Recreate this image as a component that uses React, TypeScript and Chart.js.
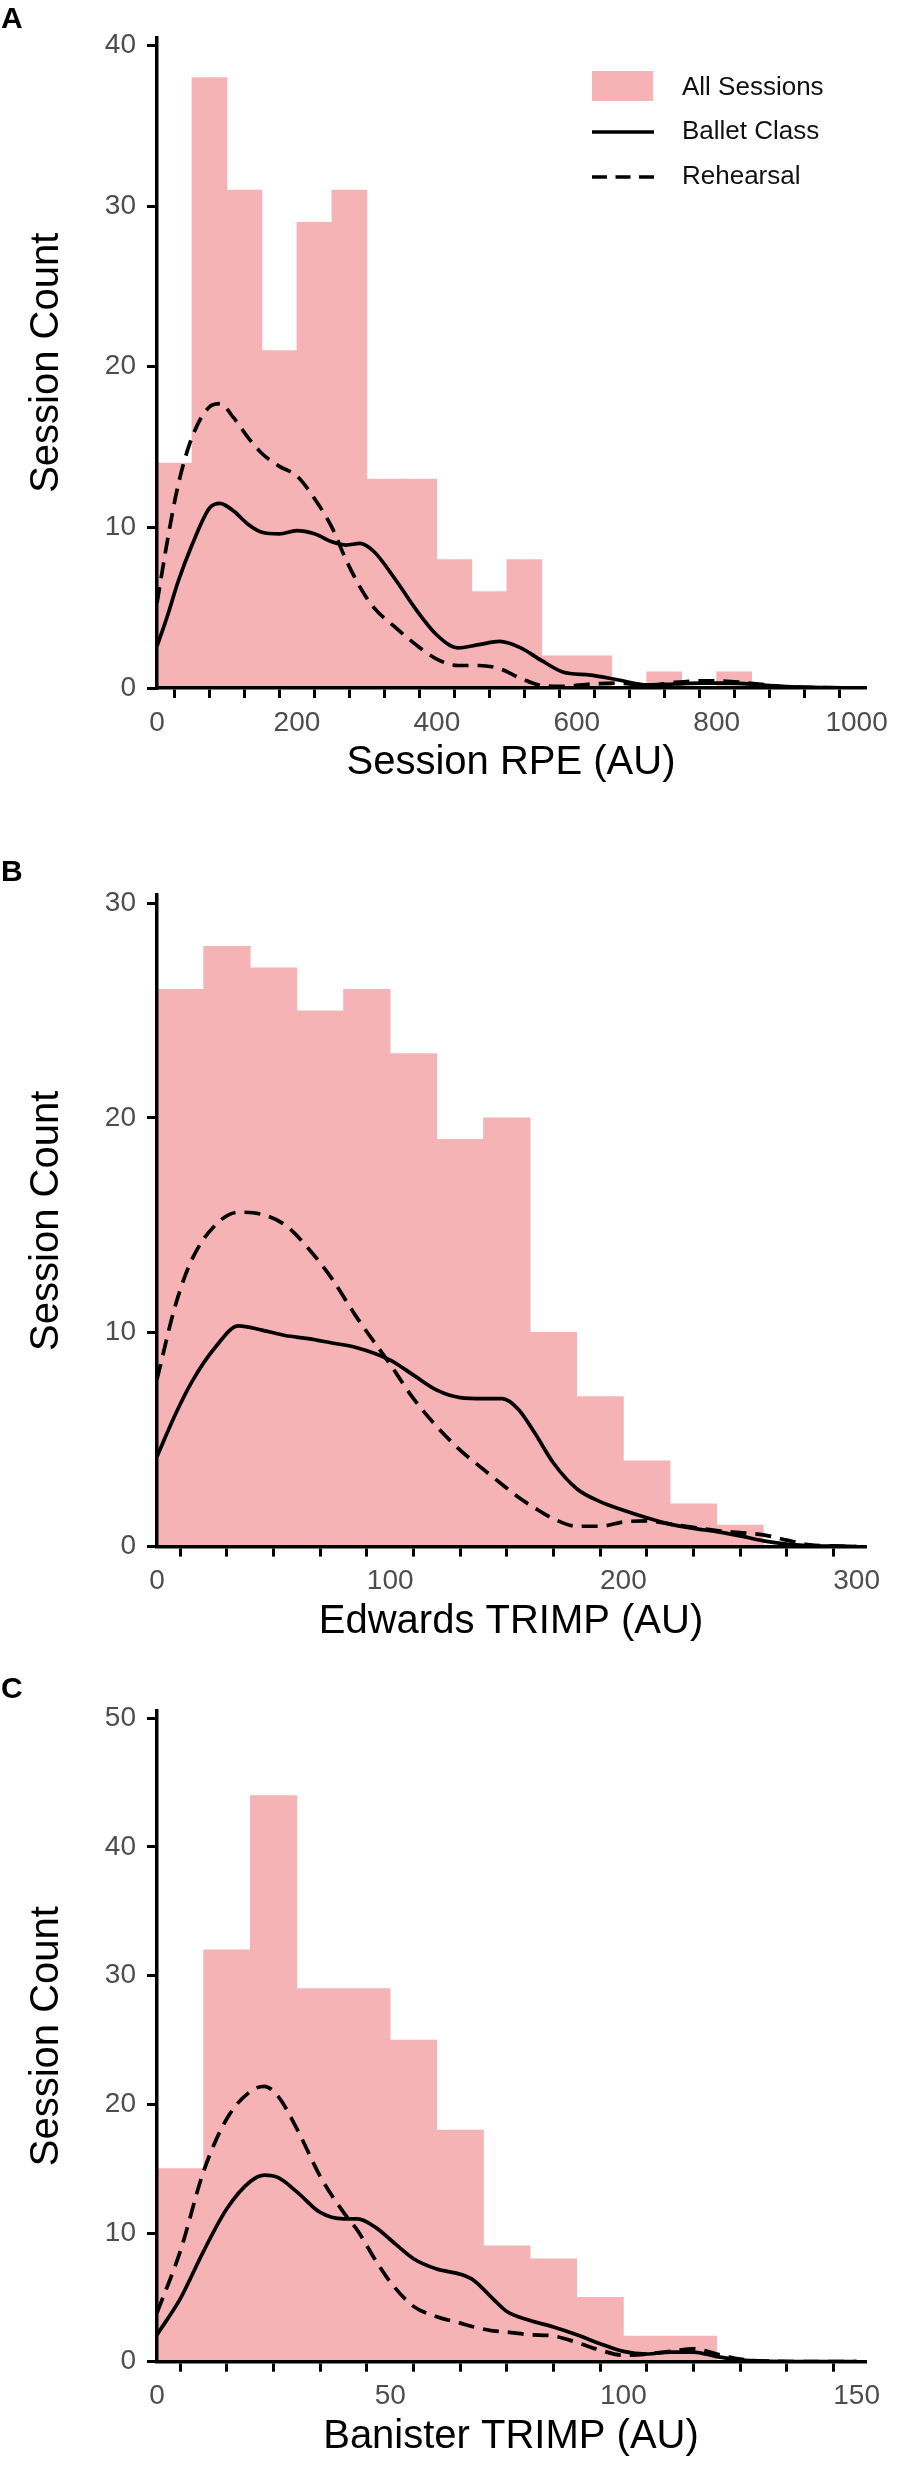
import { useEffect, useRef } from "react";
import { Chart, registerables, type ChartConfiguration, type Plugin } from "chart.js";

Chart.register(...registerables);

const FONT = "'Liberation Sans', Arial, Helvetica, sans-serif";
const PINK = "#f6b3b5";
const TICK_GREY = "#4d4d4d";

const PANEL_W = 900;
const PANEL_H = 824;
const PLOT_LEFT = 157;
const PLOT_RIGHT = 865;
const X_AXIS_H = 99;
const CURVE_W = 3.7;
const DASH = [16, 9];

// A: session RPE, 50 AU bins
const RPE_BINS = [25, 75, 125, 175, 225, 275, 325, 375, 425, 475, 525, 575, 625, 675, 725, 775, 825, 875, 925, 975];
const RPE_COUNTS = [14, 38, 31, 21, 29, 31, 13, 13, 8, 6, 8, 2, 2, 0, 1, 0, 1, 0, 0, 0];
const RPE_DENS_X = [0, 15, 30, 50, 75, 90, 110, 130, 150, 175, 200, 225, 250, 270, 290, 310, 340, 370, 400, 430, 460, 490, 520, 550, 580, 620, 660, 700, 740, 780, 820, 860, 900, 950, 1000];
const RPE_BALLET = [2.6, 4.5, 6.6, 8.9, 11.2, 11.5, 11.0, 10.2, 9.7, 9.6, 9.8, 9.6, 9.1, 8.9, 9.0, 8.5, 6.8, 4.9, 3.3, 2.5, 2.7, 2.9, 2.5, 1.7, 1.0, 0.8, 0.5, 0.2, 0.25, 0.3, 0.3, 0.2, 0.08, 0.03, 0];
const RPE_REHEARSAL = [5.3, 9.2, 12.6, 15.6, 17.5, 17.7, 16.8, 15.6, 14.6, 13.8, 13.2, 11.8, 10.0, 8.0, 6.3, 5.0, 3.8, 2.7, 1.8, 1.4, 1.4, 1.2, 0.6, 0.15, 0.1, 0.25, 0.3, 0.15, 0.35, 0.45, 0.4, 0.25, 0.07, 0.02, 0];
const RPE_X_TICKS = [0, 50, 100, 150, 200, 250, 300, 350, 400, 450, 500, 550, 600, 650, 700, 750, 800, 850, 900, 950, 1000];
const RPE_X_LABELS = [0, 200, 400, 600, 800, 1000];
const RPE_Y_TICKS = [0, 10, 20, 30, 40];

// B: Edwards TRIMP, 20 AU bins
const EDW_BINS = [10, 30, 50, 70, 90, 110, 130, 150, 170, 190, 210, 230, 250, 270, 290];
const EDW_COUNTS = [26, 28, 27, 25, 26, 23, 19, 20, 10, 7, 4, 2, 1, 0, 0];
const EDW_DENS_X = [0, 8, 15, 25, 35, 45, 55, 65, 75, 85, 100, 110, 120, 130, 140, 148, 155, 162, 170, 180, 190, 200, 210, 220, 230, 240, 250, 260, 270, 280, 290, 300];
const EDW_BALLET = [4.2, 6.2, 7.7, 9.3, 10.3, 10.1, 9.85, 9.7, 9.5, 9.3, 8.7, 8.0, 7.3, 6.95, 6.9, 6.9, 6.4, 5.3, 3.9, 2.7, 2.1, 1.7, 1.35, 1.05, 0.85, 0.7, 0.5, 0.27, 0.12, 0.05, 0.02, 0];
const EDW_REHEARSAL = [7.8, 11.3, 13.4, 15.0, 15.6, 15.5, 15.0, 13.9, 12.5, 10.8, 8.5, 6.9, 5.6, 4.5, 3.6, 2.9, 2.3, 1.8, 1.3, 0.95, 0.95, 1.15, 1.2, 1.05, 0.9, 0.75, 0.65, 0.55, 0.3, 0.08, 0.03, 0];
const EDW_X_TICKS = [0, 20, 40, 60, 80, 100, 120, 140, 160, 180, 200, 220, 240, 260, 280, 300];
const EDW_X_LABELS = [0, 100, 200, 300];
const EDW_Y_TICKS = [0, 10, 20, 30];

// C: Banister TRIMP, 10 AU bins
const BAN_BINS = [5, 15, 25, 35, 45, 55, 65, 75, 85, 95, 105, 115, 125, 135, 145];
const BAN_COUNTS = [15, 32, 44, 29, 29, 25, 18, 9, 8, 5, 2, 2, 0, 0, 0];
const BAN_DENS_X = [0, 5, 10, 15, 20, 23, 26, 30, 35, 40, 43, 47, 50, 55, 60, 65, 68, 72, 75, 80, 85, 90, 95, 100, 105, 110, 115, 120, 125, 130, 140, 150];
const BAN_BALLET = [2.1, 4.9, 8.6, 11.9, 14.0, 14.5, 14.3, 13.2, 11.6, 11.1, 11.1, 10.4, 9.5, 8.0, 7.2, 6.8, 6.3, 4.9, 3.9, 3.2, 2.7, 2.1, 1.4, 0.8, 0.6, 0.75, 0.75, 0.4, 0.15, 0.05, 0.01, 0];
const BAN_REHEARSAL = [3.8, 8.6, 14.8, 18.9, 21.0, 21.4, 20.6, 18.1, 14.4, 11.6, 10.2, 7.8, 6.2, 4.3, 3.5, 3.0, 2.7, 2.4, 2.3, 2.1, 2.0, 1.5, 0.9, 0.5, 0.6, 0.8, 1.0, 0.6, 0.2, 0.05, 0.01, 0];
const BAN_X_TICKS = [0, 10, 20, 30, 40, 50, 60, 70, 80, 90, 100, 110, 120, 130, 140, 150];
const BAN_X_LABELS = [0, 50, 100, 150];
const BAN_Y_TICKS = [0, 10, 20, 30, 40, 50];

const legendPlugin: Plugin<"line"> = {
  id: "sessionLegend",
  afterDraw(chart) {
    const { ctx } = chart;
    const labels = chart.data.datasets.map((d) => d.label ?? "");
    const keyX = 592;
    const keyW = 62;
    const rows = [88, 132, 177];
    ctx.save();
    ctx.fillStyle = PINK;
    ctx.fillRect(keyX, 71, 61, 30);
    ctx.strokeStyle = "#000";
    ctx.lineWidth = 3.7;
    ctx.beginPath();
    ctx.moveTo(keyX, rows[1]);
    ctx.lineTo(keyX + keyW, rows[1]);
    ctx.stroke();
    ctx.setLineDash([15, 8.5]);
    ctx.beginPath();
    ctx.moveTo(keyX, rows[2]);
    ctx.lineTo(keyX + keyW, rows[2]);
    ctx.stroke();
    ctx.setLineDash([]);
    ctx.fillStyle = "#111";
    ctx.font = `26px ${FONT}`;
    ctx.textBaseline = "middle";
    ctx.textAlign = "left";
    labels.forEach((t, i) => ctx.fillText(t, 682, rows[i]));
    ctx.restore();
  },
};

interface PanelProps {
  letter: string;
  letterTop: number;
  bins: number[];
  counts: number[];
  densX: number[];
  ballet: number[];
  rehearsal: number[];
  xTicks: number[];
  xLabels: number[];
  yTicks: number[];
  xMax: number;
  yMax: number;
  xTitle: string;
  plotTop: number;
  plotBottom: number;
  legend?: boolean;
}

function HistPanel(p: PanelProps) {
  const canvasRef = useRef<HTMLCanvasElement>(null);
  const chartRef = useRef<Chart | null>(null);

  useEffect(() => {
    if (!canvasRef.current) return;
    chartRef.current?.destroy();

    const tickFont = { family: FONT, size: 28 };
    const titleFont = { family: FONT, size: 40 };
    const grid = {
      drawOnChartArea: false,
      drawTicks: true,
      tickLength: 10,
      tickWidth: 3,
      tickColor: "#000",
      lineWidth: 3,
      color: "#000",
    };
    const border = { display: true, color: "#000", width: 3.5, z: 1 };

    const config: ChartConfiguration<"line"> = {
      type: "line",
      data: {
        datasets: [
          {
            type: "bar",
            label: "All Sessions",
            data: p.bins.map((x, i) => ({ x, y: p.counts[i] })),
            backgroundColor: PINK,
            borderWidth: 0,
            barPercentage: 1,
            categoryPercentage: 1,
            order: 2,
          } as any,
          {
            label: "Ballet Class",
            data: p.densX.map((x, i) => ({ x, y: p.ballet[i] })),
            borderColor: "#000",
            borderWidth: CURVE_W,
            pointRadius: 0,
            fill: false,
            cubicInterpolationMode: "monotone",
            order: 1,
          },
          {
            label: "Rehearsal",
            data: p.densX.map((x, i) => ({ x, y: p.rehearsal[i] })),
            borderColor: "#000",
            borderWidth: CURVE_W,
            borderDash: DASH,
            pointRadius: 0,
            fill: false,
            cubicInterpolationMode: "monotone",
            order: 0,
          },
        ],
      },
      options: {
        responsive: true,
        maintainAspectRatio: false,
        animation: false,
        layout: {
          padding: {
            left: 0,
            right: PANEL_W - PLOT_RIGHT,
            top: p.plotTop,
            bottom: PANEL_H - p.plotBottom - X_AXIS_H,
          },
        },
        plugins: {
          legend: { display: false },
          tooltip: { enabled: false },
        },
        scales: {
          x: {
            type: "linear",
            min: 0,
            max: p.xMax,
            offset: false,
            afterBuildTicks: (s) => {
              s.ticks = p.xTicks.map((value) => ({ value }));
            },
            afterFit: (s) => {
              s.height = X_AXIS_H;
            },
            ticks: {
              autoSkip: false,
              maxRotation: 0,
              padding: 8,
              color: TICK_GREY,
              font: tickFont,
              callback: (v) => (p.xLabels.includes(Number(v)) ? String(v) : ""),
            },
            grid,
            border,
            title: {
              display: true,
              text: p.xTitle,
              color: "#000",
              font: titleFont,
              padding: { top: 0, bottom: 0 },
            },
          },
          y: {
            type: "linear",
            min: 0,
            max: p.yMax,
            afterBuildTicks: (s) => {
              s.ticks = p.yTicks.map((value) => ({ value }));
            },
            afterFit: (s) => {
              s.width = PLOT_LEFT;
            },
            ticks: {
              padding: 11,
              color: TICK_GREY,
              font: tickFont,
              callback: (v) => String(v),
            },
            grid,
            border,
            title: {
              display: true,
              text: "Session Count",
              color: "#000",
              font: titleFont,
              padding: { top: 23, bottom: 0 },
            },
          },
        },
      },
      plugins: p.legend ? [legendPlugin] : [],
    };

    chartRef.current = new Chart(canvasRef.current, config);
    return () => {
      chartRef.current?.destroy();
      chartRef.current = null;
    };
  }, [p]);

  return (
    <div style={{ position: "relative", width: PANEL_W, height: PANEL_H }}>
      <canvas ref={canvasRef} />
      <div
        style={{
          position: "absolute",
          left: 1,
          top: p.letterTop,
          font: `bold 30px ${FONT}`,
          lineHeight: "30px",
          color: "#000",
        }}
      >
        {p.letter}
      </div>
    </div>
  );
}

const PANEL_A: PanelProps = {
  letter: "A",
  letterTop: 3,
  bins: RPE_BINS,
  counts: RPE_COUNTS,
  densX: RPE_DENS_X,
  ballet: RPE_BALLET,
  rehearsal: RPE_REHEARSAL,
  xTicks: RPE_X_TICKS,
  xLabels: RPE_X_LABELS,
  yTicks: RPE_Y_TICKS,
  xMax: 1012,
  yMax: 40.5,
  xTitle: "Session RPE (AU)",
  plotTop: 37.5,
  plotBottom: 688,
  legend: true,
};

const PANEL_B: PanelProps = {
  letter: "B",
  letterTop: 32,
  bins: EDW_BINS,
  counts: EDW_COUNTS,
  densX: EDW_DENS_X,
  ballet: EDW_BALLET,
  rehearsal: EDW_REHEARSAL,
  xTicks: EDW_X_TICKS,
  xLabels: EDW_X_LABELS,
  yTicks: EDW_Y_TICKS,
  xMax: 303.6,
  yMax: 30.4,
  xTitle: "Edwards TRIMP (AU)",
  plotTop: 71,
  plotBottom: 722.6,
};

const PANEL_C: PanelProps = {
  letter: "C",
  letterTop: 25,
  bins: BAN_BINS,
  counts: BAN_COUNTS,
  densX: BAN_DENS_X,
  ballet: BAN_BALLET,
  rehearsal: BAN_REHEARSAL,
  xTicks: BAN_X_TICKS,
  xLabels: BAN_X_LABELS,
  yTicks: BAN_Y_TICKS,
  xMax: 151.8,
  yMax: 50.6,
  xTitle: "Banister TRIMP (AU)",
  plotTop: 62.6,
  plotBottom: 713.7,
};

export default function App() {
  return (
    <div style={{ position: "absolute", left: 0, top: 0, width: PANEL_W, background: "#fff" }}>
      <HistPanel {...PANEL_A} />
      <HistPanel {...PANEL_B} />
      <HistPanel {...PANEL_C} />
    </div>
  );
}
